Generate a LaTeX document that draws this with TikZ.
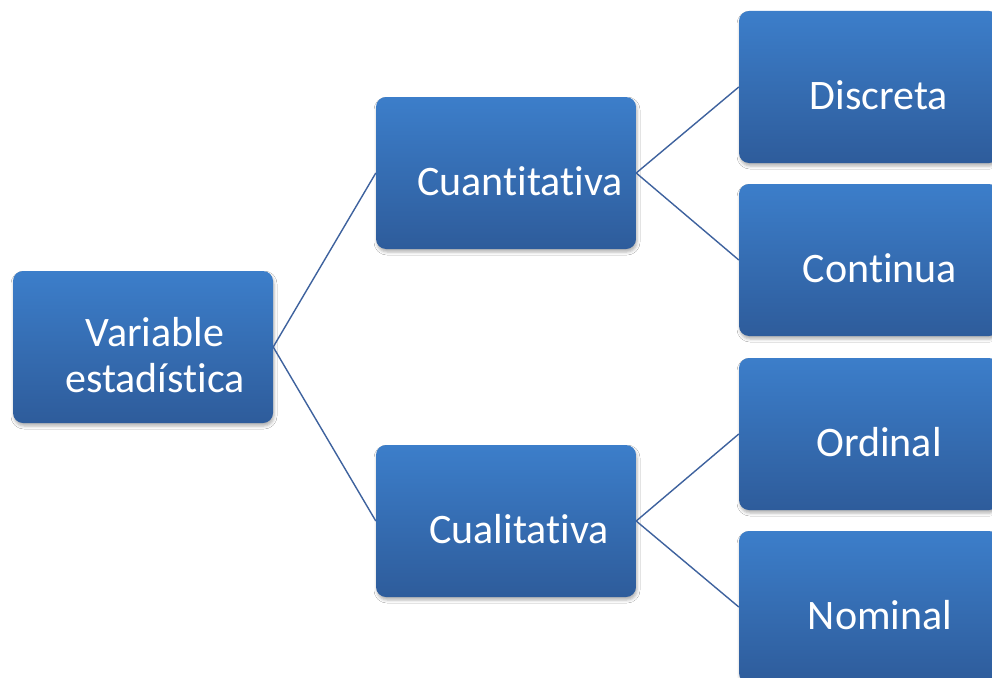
\documentclass[tikz,border=0pt]{standalone}
\usepackage{fontspec}
\setmainfont[Ligatures=NoCommon]{Carlito}
\usetikzlibrary{shadows.blur,calc}
\definecolor{boxtop}{RGB}{60,126,202}
\definecolor{boxbot}{RGB}{46,92,155}
\definecolor{linkc}{RGB}{62,98,158}
\tikzset{
  boxnode/.style={rectangle, rounded corners=10pt, minimum width=260pt, minimum height=152pt,
    inner sep=0pt, top color=boxtop, bottom color=boxbot, draw=none,
    blur shadow={shadow xshift=1pt, shadow yshift=-3pt, shadow blur radius=3pt, shadow blur extra rounding=0pt, shadow opacity=30}},
  boxtext/.style={text=white, font=\fontsize{42}{46}\selectfont, align=center, inner sep=0pt},
  link/.style={draw=linkc, line width=1.4pt}
}
\begin{document}
\begin{tikzpicture}[x=1pt,y=-1pt]
\useasboundingbox (0,0) rectangle (992,677);
\clip (0,0) rectangle (992,677);
\fill[white] (0,0) rectangle (992,677);
% boxes
\node[boxnode] (v) at (143,347) {};
\node[boxnode] (qn) at (506,173) {};
\node[boxnode] (ql) at (506,521) {};
\node[boxnode] (d) at (869,87) {};
\node[boxnode] (c) at (869,260) {};
\node[boxnode] (o) at (869,434) {};
\node[boxnode] (n) at (869,607) {};
% texts
\node[boxtext] (vt) at ($(v)+(12,8)$) {Variable\\estadística};
\node[boxtext] (qnt) at ($(qn)+(14,8)$) {Cuantitativa};
\node[boxtext] (qlt) at ($(ql)+(13,8)$) {Cualitativa};
\node[boxtext] (dt) at ($(d)+(10,8)$) {Discreta};
\node[boxtext] (ct) at ($(c)+(11,8)$) {Continua};
\node[boxtext] (ot) at ($(o)+(10,8)$) {Ordinal};
\node[boxtext] (nt) at ($(n)+(11,8)$) {Nominal};
% connectors
\draw[link] (v.east) -- (qn.west);
\draw[link] (v.east) -- (ql.west);
\draw[link] (qn.east) -- (d.west);
\draw[link] (qn.east) -- (c.west);
\draw[link] (ql.east) -- (o.west);
\draw[link] (ql.east) -- (n.west);
\end{tikzpicture}
\end{document}
